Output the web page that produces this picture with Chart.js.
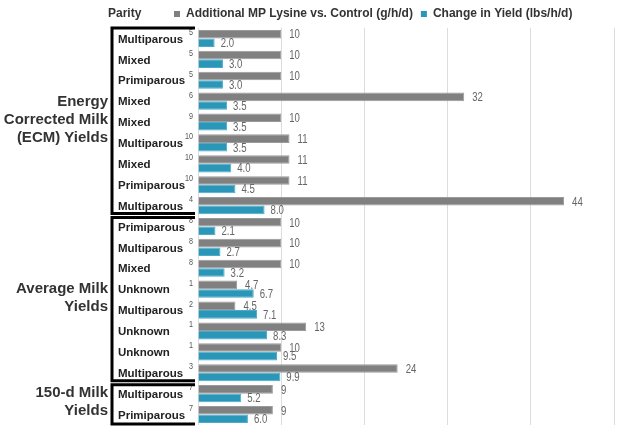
<!DOCTYPE html>
<html>
<head>
<meta charset="utf-8">
<script src="https://cdn.jsdelivr.net/npm/chart.js@4"></script>
<style>
  body { margin: 0; background: #fff; }
  #wrap { width: 628px; height: 433px; position: relative; }
</style>
</head>
<body>
<div id="wrap"><canvas id="chart"></canvas></div>
<script>
const parity = ['Multiparous', 'Mixed', 'Primiparous', 'Mixed', 'Mixed', 'Multiparous', 'Mixed', 'Primiparous', 'Multiparous',
    'Primiparous', 'Multiparous', 'Mixed', 'Unknown', 'Multiparous', 'Unknown', 'Unknown', 'Multiparous',
    'Multiparous', 'Primiparous'];
const refs = [5, 5, 5, 6, 9, 10, 10, 10, 4, 8, 8, 8, 1, 2, 1, 1, 3, 7, 7];
const lysine = [10, 10, 10, 32, 10, 11, 11, 11, 44, 10, 10, 10, 4.7, 4.5, 13, 10, 24, 9, 9];
const yieldChange = [2.0, 3.0, 3.0, 3.5, 3.5, 3.5, 4.0, 4.5, 8.0, 2.1, 2.7, 3.2, 6.7, 7.1, 8.3, 9.5, 9.9, 5.2, 6.0];
const groupNames = [['Energy', 'Corrected Milk', '(ECM) Yields'], ['Average Milk', 'Yields'], ['150-d Milk', 'Yields']];
const groupStart = [0, 9, 17];
const groupEnd = [8, 16, 18];

const GRAY = '#808080';
const BLUE = '#2a96b8';
const FONT = '"Liberation Sans", Arial, sans-serif';
const BOLD = 'bold 11.5px ' + FONT;

// narrow text: squeeze regular font horizontally
function narrowText(ctx, txt, x, y, align) {
    ctx.save();
    ctx.translate(x, y);
    ctx.scale(0.8, 1);
    ctx.textAlign = align;
    ctx.fillText(txt, 0, 0);
    ctx.restore();
}

// labels, boxes, legend and bar values
const decorations = {
    id: 'decorations',
    afterDraw(chart) {
        const ctx = chart.ctx;
        const y = chart.scales.y;
        const half = (y.getPixelForValue(1) - y.getPixelForValue(0)) / 2;
        ctx.save();

        // legend
        ctx.textBaseline = 'middle';
        ctx.textAlign = 'left';
        ctx.font = 'bold 12px ' + FONT;
        ctx.fillStyle = '#333';
        ctx.fillText('Parity', 108, 14);
        let x = 174;
        [[GRAY, 'Additional MP Lysine vs. Control (g/h/d)'], [BLUE, 'Change in Yield (lbs/h/d)']].forEach(item => {
            ctx.fillStyle = item[0];
            ctx.fillRect(x, 11, 6, 6);
            ctx.fillStyle = '#333';
            ctx.fillText(item[1], x + 12, 14);
            x += 12 + ctx.measureText(item[1]).width + 8;
        });

        // category labels + reference numbers
        parity.forEach((name, i) => {
            const py = y.getPixelForValue(i);
            ctx.font = BOLD;
            ctx.fillStyle = '#222';
            ctx.textAlign = 'left';
            ctx.fillText(name, 118, py + 1);
            ctx.font = '9px ' + FONT;
            ctx.fillStyle = '#555';
            narrowText(ctx, String(refs[i]), 193, py - 6, 'right');
        });

        // group labels and brackets
        groupNames.forEach((lines, g) => {
            const top = y.getPixelForValue(groupStart[g]) - half;
            const bottom = y.getPixelForValue(groupEnd[g]) + half;
            const mid = (top + bottom) / 2 - 2;
            ctx.font = 'bold 15px ' + FONT;
            ctx.fillStyle = '#333';
            ctx.textAlign = 'right';
            lines.forEach((line, k) => {
                ctx.fillText(line, 108, mid + (k - (lines.length - 1) / 2) * 18);
            });
            const t = g === 0 ? top : top + 1.5;
            const b = g === 2 ? bottom - 1 : bottom - 2.5;
            ctx.strokeStyle = '#000';
            ctx.lineWidth = 3;
            ctx.beginPath();
            ctx.moveTo(195, t);
            ctx.lineTo(112, t);
            ctx.lineTo(112, b);
            ctx.lineTo(195, b);
            ctx.stroke();
        });

        // bar values
        ctx.font = '12px ' + FONT;
        ctx.fillStyle = '#666';
        chart.data.datasets.forEach((ds, d) => {
            chart.getDatasetMeta(d).data.forEach((bar, i) => {
                const v = ds.data[i];
                const txt = d === 0 ? String(v) : v.toFixed(1);
                narrowText(ctx, txt, bar.x + (d === 0 ? 8 : 6), bar.y + 1, 'left');
            });
        });
        ctx.restore();
    }
};

new Chart(document.getElementById('chart'), {
    type: 'bar',
    data: {
        labels: parity,
        datasets: [
            { label: 'Additional MP Lysine vs. Control (g/h/d)', data: lysine, backgroundColor: GRAY,
              borderColor: '#9a9a9a', borderWidth: 1 },
            { label: 'Change in Yield (lbs/h/d)', data: yieldChange, backgroundColor: BLUE,
              borderColor: '#4aaac8', borderWidth: 1 }
        ]
    },
    options: {
        indexAxis: 'y',
        responsive: true,
        maintainAspectRatio: false,
        animation: false,
        layout: { padding: { left: 190, right: 14, top: 28, bottom: 8 } },
        datasets: { bar: { categoryPercentage: 0.82, barPercentage: 1.0 } },
        scales: {
            x: {
                min: 0, max: 50,
                ticks: { display: false, stepSize: 10 },
                grid: { color: '#dcdcdc', drawTicks: false, tickLength: 0 },
                border: { display: false }
            },
            y: {
                ticks: { display: false },
                grid: { display: false },
                border: { display: false }
            }
        },
        plugins: { legend: { display: false }, tooltip: { enabled: false } }
    },
    plugins: [decorations]
});
</script>
</body>
</html>
